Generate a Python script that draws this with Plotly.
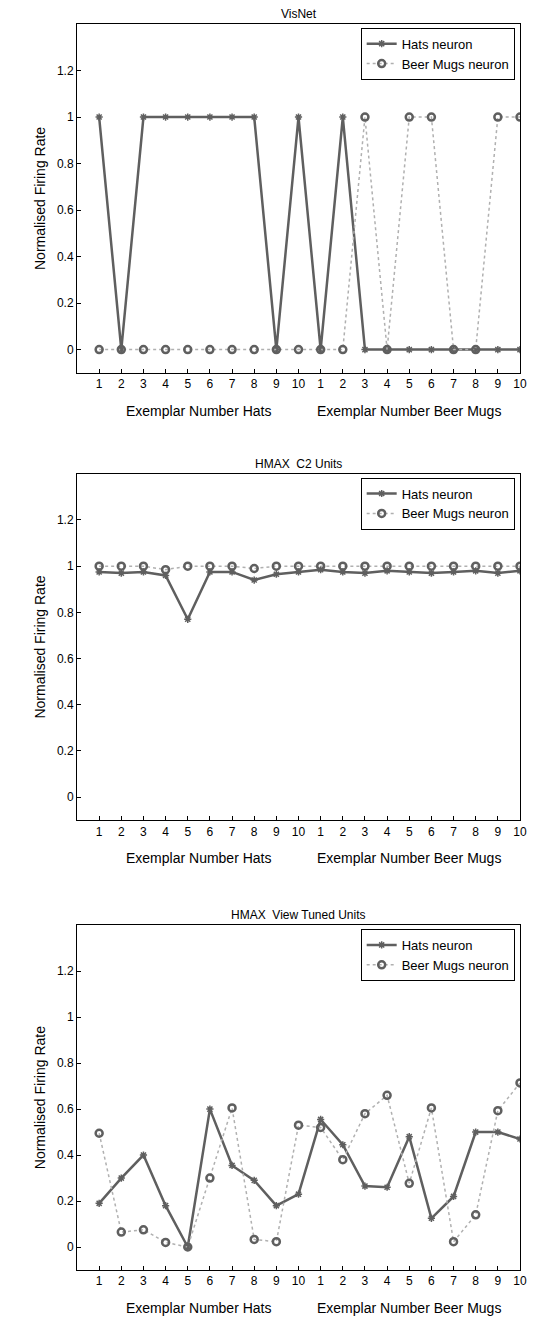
import plotly.graph_objects as go

x = list(range(1, 21))
tick_labels = [str(i) for i in range(1, 11)] * 2
titles = ["VisNet", "HMAX  C2 Units", "HMAX  View Tuned Units"]

visnet_hats = [1,0,1,1,1,1,1,1,0,1,0,1,0,0,0,0,0,0,0,0]
visnet_mugs = [0,0,0,0,0,0,0,0,0,0,0,0,1,0,1,1,0,0,1,1]
c2_hats = [0.975,0.97,0.975,0.96,0.77,0.975,0.975,0.94,0.965,0.975,0.985,0.975,0.97,0.98,0.975,0.97,0.975,0.98,0.97,0.98]
c2_mugs = [1,1,1,0.985,1,1,1,0.99,1,1,1,1,1,1,1,1,1,1,1,1]
vtu_hats = [0.19,0.30,0.40,0.18,0.0,0.60,0.355,0.29,0.18,0.23,0.555,0.445,0.265,0.26,0.48,0.125,0.22,0.50,0.50,0.47]
vtu_mugs = [0.495,0.065,0.075,0.02,0.0,0.30,0.605,0.033,0.023,0.53,0.52,0.38,0.58,0.66,0.277,0.605,0.023,0.14,0.593,0.714]

data = [(visnet_hats, visnet_mugs), (c2_hats, c2_mugs), (vtu_hats, vtu_mugs)]
domains = [[0.72, 1.0], [0.361, 0.639], [0.0, 0.2767]]
C = "#5f5f5f"
font = "Liberation Sans, Arial, sans-serif"

fig = go.Figure()
layout = dict(width=550, height=1324, margin=dict(l=69, r=38, t=16, b=62, autoexpand=False),
              plot_bgcolor="white", paper_bgcolor="white",
              font=dict(family=font, size=12, color="black"), annotations=[])
for i, (h, m) in enumerate(data):
    sfx = "" if i == 0 else str(i + 1)
    leg = "legend" + sfx
    fig.add_trace(go.Scatter(x=x, y=h, xaxis="x" + sfx, yaxis="y" + sfx, name="Hats neuron",
                             mode="lines+markers", line=dict(color=C, width=2.5),
                             marker=dict(symbol="asterisk-open", size=6, color=C, line=dict(color=C, width=1.5)),
                             legend=leg))
    fig.add_trace(go.Scatter(x=x, y=m, xaxis="x" + sfx, yaxis="y" + sfx, name="Beer Mugs neuron",
                             mode="lines+markers", line=dict(color="#b0b0b0", width=1.5, dash="dot"),
                             marker=dict(symbol="circle-open", size=7, color=C, line=dict(color=C, width=2.5)),
                             legend=leg))
    layout["xaxis" + sfx] = dict(domain=[0, 1], anchor="y" + sfx, range=[0, 20], tickvals=x, ticktext=tick_labels,
                                 showgrid=False, zeroline=False, showline=True, linecolor="black", mirror=True,
                                 ticks="inside", ticklen=4, tickcolor="black", automargin=False)
    layout["yaxis" + sfx] = dict(domain=domains[i], anchor="x" + sfx, range=[-0.1, 1.4],
                                 tickvals=[0, 0.2, 0.4, 0.6, 0.8, 1, 1.2], ticktext=["0","0.2","0.4","0.6","0.8","1","1.2"],
                                 showgrid=False, zeroline=False, showline=True, linecolor="black", mirror=True,
                                 ticks="inside", ticklen=4, tickcolor="black", automargin=False,
                                 title=dict(text="Normalised Firing Rate", font=dict(size=14), standoff=8))
    layout[leg] = dict(x=0.988, y=domains[i][1] - 0.003, xanchor="right", yanchor="top",
                       bgcolor="white", bordercolor="black", borderwidth=1,
                       font=dict(size=13), tracegroupgap=0, itemwidth=30)
    layout["annotations"] += [
        dict(text=titles[i], xref="paper", yref="paper", x=0.5, y=domains[i][1], yanchor="bottom",
             yshift=1, showarrow=False, font=dict(size=12)),
        dict(text="Exemplar Number Hats", xref="x" + sfx, yref="paper", x=5.5, y=domains[i][0],
             yanchor="top", yshift=-28, showarrow=False, font=dict(size=14)),
        dict(text="Exemplar Number Beer Mugs", xref="x" + sfx, yref="paper", x=15.0, y=domains[i][0],
             yanchor="top", yshift=-28, showarrow=False, font=dict(size=14)),
    ]
fig.update_layout(**layout)
fig.write_html("out.html")
